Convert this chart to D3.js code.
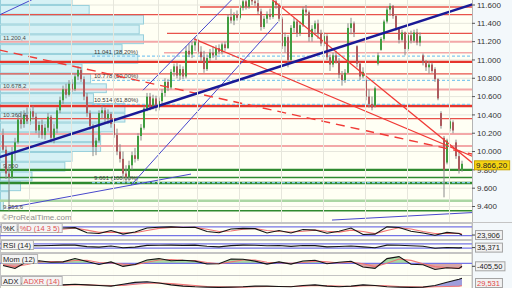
<!DOCTYPE html>
<html>
<head>
<meta charset="utf-8">
<script src="https://cdn.jsdelivr.net/npm/d3@7"></script>
<style>
  body { margin: 0; background: #fff; }
  svg { display: block; font-family: "Liberation Sans", Arial, sans-serif; }
</style>
</head>
<body>
<div id="chart"></div>
<script>
// ---- candles (daily) ----
const opens = [10180,10020,9760,9720,9990,10100,10350,10300,10400,10330,
  10440,10380,10230,10290,10180,10260,10380,10150,10250,10450,
  10560,10680,10620,10740,10680,10820,10890,10790,10600,10420,
  10280,10050,10120,10420,10450,10360,10410,10300,10180,10000,
  9920,9760,9720,9850,9960,9920,10170,10260,10470,10600,
  10500,10580,10480,10550,10640,10760,10700,10870,10930,10830,
  10900,10820,11100,11060,11160,11200,11090,11030,10900,11020,
  11080,11050,11130,11090,11170,11130,11470,11430,11490,11460,
  11570,11640,11580,11680,11640,11620,11530,11360,11450,11500,
  11470,11640,11600,11450,11150,11250,11000,11350,11420,11290,
  11380,11550,11520,11250,11340,11400,11290,11180,11260,11030,
  10950,11050,10990,10840,10780,10860,11350,11400,11150,10960,
  10820,10780,10600,10520,10500,10960,11110,11230,11420,11550,
  11590,11480,11350,11220,11300,11120,11270,11210,11300,11190,
  11050,10970,10920,10950,10900,10790,10420,10150,9880,10250,
  10320,10100,9950,9800]
const highs = [10250,10060,9820,10050,10150,10400,10440,10450,10480,10470,
  10500,10420,10330,10350,10300,10420,10400,10300,10480,10600,
  10720,10740,10780,10790,10850,10930,10920,10820,10640,10450,
  10300,10150,10450,10500,10480,10460,10430,10340,10250,10080,
  10000,9850,9900,10000,10040,10200,10300,10500,10640,10640,
  10620,10610,10590,10680,10800,10790,10900,10960,10970,10950,
  10930,11150,11180,11200,11250,11230,11150,11100,11060,11120,
  11150,11160,11170,11190,11200,11500,11560,11520,11540,11600,
  11680,11700,11700,11720,11700,11680,11560,11480,11530,11560,
  11680,11700,11620,11470,11300,11270,11380,11460,11440,11420,
  11580,11600,11540,11380,11430,11440,11330,11300,11280,11060,
  11080,11100,11020,10880,10900,11400,11460,11420,11160,10980,
  10920,10800,10680,10600,10710,11080,11250,11440,11580,11620,
  11600,11500,11360,11330,11310,11300,11320,11330,11340,11300,
  11070,11000,10990,10970,10920,10800,10440,10170,10140,10360,
  10340,10130,10000,9900]
const lows = [10000,9700,9353.6,9700,9900,10080,10250,10260,10300,10290,
  10350,10200,10150,10140,10130,10220,10100,10090,10200,10420,
  10520,10580,10600,10650,10660,10780,10760,10560,10380,10240,
  9950,9960,10100,10360,10320,10300,10260,10150,9960,9880,
  9700,9661,9680,9800,9880,9900,10120,10240,10440,10450,
  10460,10440,10450,10500,10600,10660,10680,10820,10800,10780,
  10790,10800,11030,11020,11100,11060,10980,10860,10880,10990,
  11020,11000,11060,11060,11100,11120,11400,11380,11430,11440,
  11540,11550,11560,11600,11590,11500,11320,11340,11400,11440,
  11450,11560,11420,11120,11080,10920,10990,11300,11250,11260,
  11360,11480,11200,11200,11280,11230,11150,11150,11000,10880,
  10920,10960,10800,10720,10750,10850,11280,11250,10920,10780,
  10800,10560,10480,10450,10480,10940,11100,11210,11400,11480,
  11450,11320,11180,11200,11050,11100,11180,11190,11160,11150,
  10940,10880,10850,10860,10760,10560,10250,9500,9860,10220,
  10200,9920,9760,9780]
const closes = [10020,9760,9720,9990,10100,10350,10300,10400,10330,10440,
  10380,10230,10290,10180,10260,10380,10150,10250,10450,10560,
  10680,10620,10740,10680,10820,10890,10790,10600,10420,10280,
  10050,10120,10420,10450,10360,10410,10300,10180,10000,9920,
  9760,9720,9850,9960,9920,10170,10260,10470,10600,10500,
  10580,10480,10550,10640,10760,10700,10870,10930,10830,10900,
  10820,11100,11060,11160,11200,11090,11030,10900,11020,11080,
  11050,11130,11090,11170,11130,11470,11430,11490,11460,11570,
  11640,11580,11680,11640,11620,11530,11360,11450,11500,11470,
  11640,11600,11450,11150,11250,11000,11350,11420,11290,11380,
  11550,11520,11250,11340,11400,11290,11180,11260,11030,10950,
  11050,10990,10840,10780,10860,11350,11400,11300,10960,10820,
  10870,10600,10520,10480,10690,11050,11230,11420,11550,11590,
  11480,11350,11220,11300,11120,11270,11210,11300,11190,11260,
  10970,10920,10950,10880,10790,10580,10280,9800,10120,10330,
  10230,9950,9800,9866.2]

// ---- price axis / grid ----
const priceTicks = [9400, 9600, 9800, 10000, 10200, 10400, 10600, 10800, 11000, 11200, 11400, 11600]
const gridIdx = [9, 23, 37, 52, 65, 79, 93, 107, 121, 135, 149]

// ---- volume profile (bottom bin first) ----
const profileLow = 9353.6
const profileBin = 107
const profileVol = [2, 6, 14, 22, 45, 50, 70, 70, 79, 87, 87, 65, 74, 63, 57, 96, 85, 100, 97, 100, 62, 50]

// ---- support / resistance levels ----
const redLevels = [11496, 10847, 10360]
const strongRedLevels = [10978, 10497]
const pinkLevels = [11200, 10678, 10192, 10061]
const partRedLevels = [11578, 11291]
const partRedFrom = [66, 55]
const partPinkLevels = [11079]
const partPinkFrom = [54]
const strongGreenLevels = [9800, 9657]
const greenLevels = [9717, 9353.6]
const paleGreenLevels = [9464]
const levelTags = ['11.200,4', '10.678,2', '10.360,4', '9.800', '9.353,6']
const levelTagPrices = [11200, 10678, 10360, 9800, 9353.6]

// ---- fibonacci retracement ----
const fibPrices = [11041, 10778, 10514, 9661]
const fibPct = [38.2, 50, 61.8, 100]
const fibFrom = 30

// ---- trend lines [index, price] ----
const mainTrend = [[-1, 9937], [157, 11609]]
const thinTrends = [
  [[-1, 11489], [11, 11674]],
  [[47, 10670], [78, 11705]],
  [[43, 9632], [92, 11414]],
  [[2, 9385], [63, 9754]],
  [[110, 9252], [157, 9334]]
]
const redTrends = [
  [[90, 11660], [157, 9870]],
  [[64, 11230], [157, 9945]]
]
const redDashTrend = [[-1, 11110], [157, 9970]]

// ---- indicators, one value every 4 sessions + last ----
const stochK = [55,62,70,60,58,72,75,40,35,55, 30,45,72,78,80,76,78,48,40,66,
  70,68,38,55,38,62,58,36,50,72, 28,30,80,76,50,38,22,42,34,23.906]
const stochD = [52,58,64,64,60,64,72,58,42,44, 40,40,55,70,77,78,77,64,48,52,
  64,69,55,48,45,50,58,50,44,58, 48,34,55,74,66,48,34,34,36,31]
const rsi = [42,48,55,52,54,58,58,44,40,50, 34,40,56,57,58,56,58,48,42,53,
  58,57,52,54,47,54,53,42,45,50, 42,34,58,57,52,48,30,36,33,35.371]
const mom = [-300,-700,250,350,150,200,650,250,-150,200, -420,-150,450,650,350,420,300,-100,-50,580,
  560,300,-100,200,-100,320,420,-50,150,280, -500,-680,650,920,-120,-200,-850,-600,-700,-405.5]
const momSig = [-200,-450,-150,200,250,200,380,420,120,50, -100,-200,150,450,520,420,380,120,-60,200,
  450,450,150,80,20,120,300,200,50,180, -50,-450,0,600,400,-50,-450,-600,-650,-560]
const adx = [33,34,33,31,30,31,32,31,30,29, 32,35,36,34,31,29,28,27.5,27,27.5,
  28,29,29,28.5,28,30,31,29,28,29, 31,30,28,27.5,27,27.5,30,35,40,41.4]
const adxr = [31,32,32.5,32,31,30.5,31,31,30.5,30, 30,32,33.5,34,33,31.5,30,28.5,28,27.5,
  27.5,28,28.5,28.5,28.5,29,30,29.5,29,28.5, 29.5,30,29.5,28.5,28,27.5,28,28.5,29,29.531]

const N = closes.length
const indIdx = d3.range(0, N - 1, 4).concat([N - 1])

const W = 512, H = 288, plotR = 472, mainB = 222
const loc = d3.formatLocale({ decimal: ',', thousands: '.', grouping: [3], currency: ['', ''], minus: '-' })
const fInt = loc.format(',d'), f2 = loc.format(',.2f'), f3 = loc.format(',.3f')

const x = d3.scaleLinear().domain([0, N - 1]).range([2, 2 + 3 * (N - 1)])
const y = d3.scaleLinear().domain([9400, 11600]).range([206.5, 5])
const vx = d3.scaleLinear().domain([0, 100]).range([0, 143])

const svg = d3.select('#chart').append('svg').attr('width', W).attr('height', H)
const defs = svg.append('defs')
function clip(id, x0, y0, w, h) {
  defs.append('clipPath').attr('id', id).append('rect').attr('x', x0).attr('y', y0).attr('width', w).attr('height', h)
}
clip('cMain', 0, 0, plotR, mainB)

svg.append('rect').attr('width', W).attr('height', H).attr('fill', '#f3f8fb')
svg.append('rect').attr('width', plotR).attr('height', mainB).attr('fill', '#fffff4')

const gMain = svg.append('g').attr('clip-path', 'url(#cMain)')

// grid
gMain.selectAll('line.hg').data(priceTicks).join('line')
  .attr('x1', 0).attr('x2', plotR).attr('y1', d => y(d)).attr('y2', d => y(d))
  .attr('stroke', '#e6e6dc')
svg.selectAll('line.vg').data(gridIdx).join('line')
  .attr('x1', d => x(d) + 0.5).attr('x2', d => x(d) + 0.5).attr('y1', 0).attr('y2', H)
  .attr('stroke', '#e6e6dc')

// volume profile
gMain.selectAll('rect.vp').data(profileVol).join('rect')
  .attr('x', 0.5)
  .attr('y', (d, k) => y(profileLow + profileBin * (k + 1)) + 0.5)
  .attr('width', d => vx(d))
  .attr('height', (d, k) => y(profileLow + profileBin * k) - y(profileLow + profileBin * (k + 1)) - 1)
  .attr('fill', '#cfeef4').attr('fill-opacity', 0.85)
  .attr('stroke', '#96cfdb')

// levels
function levels(data, from, color, width) {
  gMain.selectAll(null).data(data).join('line')
    .attr('x1', (d, k) => from ? x(from[k]) : 0).attr('x2', plotR)
    .attr('y1', d => y(d)).attr('y2', d => y(d))
    .attr('stroke', color).attr('stroke-width', width)
}
levels(pinkLevels, null, '#f3a8a8', 2)
levels(partPinkLevels, partPinkFrom, '#f3a8a8', 1.6)
levels(paleGreenLevels, null, '#abd6a3', 2.5)
levels(redLevels, null, '#e8524a', 1.3)
levels(partRedLevels, partRedFrom, '#e8524a', 1.3)
levels(strongRedLevels, null, '#e6342c', 2.3)
levels(greenLevels, null, '#2f8a2f', 1.5)
levels(strongGreenLevels, null, '#2f8a2f', 2.4)

// fibonacci
gMain.selectAll('line.fib').data(fibPrices).join('line')
  .attr('x1', x(fibFrom)).attr('x2', plotR)
  .attr('y1', d => y(d)).attr('y2', d => y(d))
  .attr('stroke', '#82c9ef').attr('stroke-width', 1.3).attr('stroke-dasharray', '3,2')
gMain.selectAll('text.fib').data(fibPrices).join('text')
  .attr('x', x(fibFrom) + 2).attr('y', d => y(d) - 2.5)
  .style('font-size', '6px').attr('fill', '#3a3a3a')
  .text((d, k) => fInt(d) + ' (' + f2(fibPct[k]) + '%)')

// candles
const candles = d3.range(N).map(i => ({ i, o: opens[i], h: highs[i], l: lows[i], c: closes[i] }))
gMain.selectAll('line.wick').data(candles).join('line')
  .attr('x1', d => x(d.i) + 1).attr('x2', d => x(d.i) + 1)
  .attr('y1', d => y(d.h)).attr('y2', d => y(d.l))
  .attr('stroke', '#8a8a8a')
gMain.selectAll('rect.body').data(candles).join('rect')
  .attr('x', d => x(d.i)).attr('width', 2)
  .attr('y', d => y(Math.max(d.o, d.c)))
  .attr('height', d => Math.max(1, Math.abs(y(d.o) - y(d.c))))
  .attr('fill', d => d.c >= d.o ? '#3f9d3f' : '#ad5a5e')

// trend lines
const tl = d3.line().x(d => x(d[0])).y(d => y(d[1]))
gMain.selectAll('path.thin').data(thinTrends).join('path')
  .attr('d', tl).attr('stroke', '#4848cc').attr('stroke-width', 1).attr('fill', 'none')
gMain.selectAll('path.red').data(redTrends).join('path')
  .attr('d', tl).attr('stroke', '#f03a36').attr('stroke-width', 1.2).attr('fill', 'none')
gMain.append('path').attr('d', tl(redDashTrend))
  .attr('stroke', '#f03a36').attr('stroke-width', 1.4).attr('stroke-dasharray', '9,6').attr('fill', 'none')
gMain.append('path').attr('d', tl(mainTrend))
  .attr('stroke', '#1a1a96').attr('stroke-width', 2.6).attr('fill', 'none')

// level tags on the left
gMain.selectAll('text.lt').data(levelTagPrices).join('text')
  .attr('x', 3).attr('y', d => y(d) - 1.5)
  .style('font-size', '6px').attr('fill', '#4a4a4a')
  .text((d, k) => levelTags[k])

gMain.append('text').attr('x', 2).attr('y', 219.5)
  .style('font-size', '8px').attr('fill', '#8c8c8c').text('\u00a9ProRealTime.com')

// price axis
svg.append('line').attr('x1', plotR + 0.5).attr('x2', plotR + 0.5).attr('y1', 0).attr('y2', H).attr('stroke', '#b4b4b4')
svg.selectAll('line.tk').data(priceTicks).join('line')
  .attr('x1', plotR).attr('x2', plotR + 3).attr('y1', d => y(d)).attr('y2', d => y(d))
  .attr('stroke', '#555')
svg.selectAll('text.tk').data(priceTicks).join('text')
  .attr('x', 477).attr('y', d => y(d)).attr('dy', '0.35em')
  .style('font-size', '8px').attr('fill', '#333').text(d => fInt(d))

function tag(g, x0, yc, txt, color, bg, border, size) {
  const t = g.append('text').attr('x', x0 + 2).attr('y', yc).attr('dy', '0.35em')
    .style('font-size', (size || 7.5) + 'px').attr('fill', color).text(txt)
  const w = t.node().getComputedTextLength()
  g.insert('rect', () => t.node())
    .attr('x', x0 + 0.5).attr('y', yc - 4.5).attr('width', w + 4).attr('height', 9)
    .attr('fill', bg).attr('stroke', border)
}
tag(svg, 474, y(closes[N - 1]) + 1.5, f2(closes[N - 1]), '#222', '#f6d412', '#c9a300', 8)

svg.append('line').attr('x1', 0).attr('x2', W).attr('y1', mainB + 0.5).attr('y2', mainB + 0.5).attr('stroke', '#c4c4c4')

// ---- indicator panels ----
const xi = k => x(indIdx[k]) + 1
function panel(top, bottom, id) {
  svg.append('rect').attr('x', 0.5).attr('y', top + 0.5).attr('width', plotR - 0.5).attr('height', bottom - top - 1)
    .attr('fill', '#fffff4').attr('fill-opacity', 0.9).attr('stroke', '#c4c4c4')
  clip(id, 0, top + 1, plotR, bottom - top - 2)
  return svg.append('g').attr('clip-path', 'url(#' + id + ')')
}
function series(g, vals, sc, color, w) {
  g.append('path').datum(vals)
    .attr('d', d3.line().x((d, k) => xi(k)).y(d => sc(d)))
    .attr('fill', 'none').attr('stroke', color).attr('stroke-width', w || 1.1)
}
function hline(g, v, sc) {
  g.append('line').attr('x1', 0).attr('x2', plotR).attr('y1', sc(v)).attr('y2', sc(v))
    .attr('stroke', '#7474e6').attr('stroke-width', 1.2)
}
function rightTag(v, sc, txt, color) {
  svg.append('line').attr('x1', plotR).attr('x2', plotR + 3).attr('y1', sc(v)).attr('y2', sc(v)).attr('stroke', '#444')
  tag(svg, 475, sc(v), txt, color, '#f2f2f2', '#a4a4a4')
}
function leftTags(top, items) {
  let x0 = 1
  items.forEach(([txt, color]) => {
    const g = svg.append('g')
    tag(g, x0, top + 5, txt, color, '#f4f4f4', '#b4b4b4')
    x0 += g.node().getBBox().width + 1
  })
}

// stochastic
const yS = d3.scaleLinear().domain([0, 100]).range([238.5, 224])
const gS = panel(223, 240, 'cS')
hline(gS, 80, yS); hline(gS, 20, yS)
series(gS, stochD, yS, '#f07474')
series(gS, stochK, yS, '#151515')
leftTags(223, [['%K', '#222'], ['%D (14 3 5)', '#e05050']])
rightTag(stochK[stochK.length - 1], yS, f3(stochK[stochK.length - 1]), '#222')

// rsi
const yR = d3.scaleLinear().domain([0, 100]).range([251.5, 240.5])
const gR = panel(240, 253, 'cR')
hline(gR, 70, yR); hline(gR, 30, yR)
series(gR, rsi, yR, '#151515')
leftTags(240, [['RSI (14)', '#222']])
rightTag(rsi[rsi.length - 1], yR, f3(rsi[rsi.length - 1]), '#222')

// momentum
const yM = d3.scaleLinear().domain([-1500, 1400]).range([274.3, 253.1])
const gM = panel(253, 276, 'cM')
clip('cMup', 0, 253, plotR, yM(0) - 253)
clip('cMdn', 0, yM(0), plotR, 276 - yM(0))
const momArea = d3.area().x((d, k) => xi(k)).y0(yM(0)).y1(d => yM(d))
gM.append('g').attr('clip-path', 'url(#cMup)').append('path').datum(mom).attr('d', momArea).attr('fill', '#a6d9a0')
gM.append('g').attr('clip-path', 'url(#cMdn)').append('path').datum(mom).attr('d', momArea).attr('fill', '#d8a6a6')
hline(gM, 0, yM)
series(gM, momSig, yM, '#f07474')
series(gM, mom, yM, '#151515')
leftTags(254, [['Mom (12)', '#222']])
rightTag(mom[mom.length - 1], yM, f2(mom[mom.length - 1]), '#222')

// adx
const yA = d3.scaleLinear().domain([15, 45]).range([295, 276])
const gA = panel(275, 300, 'cA')
gA.selectAll('path.fill').data(d3.range(adx.length - 1)).join('path')
  .attr('d', k => 'M' + [[xi(k), yA(adx[k])], [xi(k + 1), yA(adx[k + 1])], [xi(k + 1), yA(adxr[k + 1])], [xi(k), yA(adxr[k])]].join('L') + 'Z')
  .attr('fill', k => adx[k] + adx[k + 1] > adxr[k] + adxr[k + 1] ? '#9e9edc' : '#ecb6b6')
series(gA, adxr, yA, '#f07474')
series(gA, adx, yA, '#151515')
leftTags(276, [['ADX', '#222'], ['ADXR (14)', '#e05050']])
// value tags sit in the panel's right strip; the ADX one runs past the panel top
clip('cAr', plotR, 279.5, W - plotR, 9)
const gAr = svg.append('g').attr('clip-path', 'url(#cAr)')
tag(gAr, 475, yA(adx[adx.length - 1]), f3(adx[adx.length - 1]), '#222', '#f2f2f2', '#a4a4a4')
tag(svg, 475, Math.min(yA(adxr[adxr.length - 1]), 283), f3(adxr[adxr.length - 1]), '#e04848', '#f2f2f2', '#a4a4a4')
</script>
</body>
</html>
